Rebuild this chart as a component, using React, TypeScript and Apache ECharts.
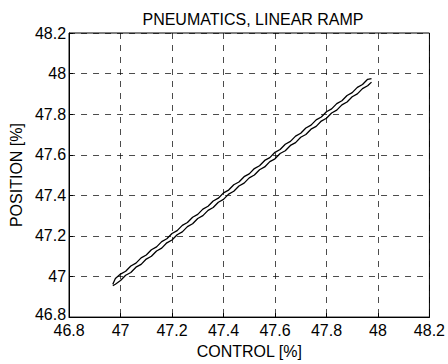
import React, { useEffect, useRef } from "react";
import * as echarts from "echarts";

const titleText = "PNEUMATICS, LINEAR RAMP";
const xName = "CONTROL [%]";
const yName = "POSITION [%]";

// rising branch (control increasing)
const controlUp = [46.97, 46.98, 47.0, 47.02, 47.04, 47.06, 47.08, 47.1, 47.12, 47.14, 47.16, 47.18, 47.2, 47.22, 47.24, 47.26, 47.28, 47.3, 47.32, 47.34, 47.36, 47.38, 47.4, 47.42, 47.44, 47.46, 47.48, 47.5, 47.52, 47.54, 47.56, 47.58, 47.6, 47.62, 47.64, 47.66, 47.68, 47.7, 47.72, 47.74, 47.76, 47.78, 47.8, 47.82, 47.84, 47.86, 47.88, 47.9, 47.92, 47.94, 47.96, 47.975];
const positionUp = [46.955, 46.962, 46.98, 47.006, 47.02, 47.046, 47.06, 47.086, 47.1, 47.126, 47.14, 47.166, 47.18, 47.206, 47.22, 47.246, 47.26, 47.286, 47.3, 47.326, 47.34, 47.366, 47.38, 47.406, 47.42, 47.446, 47.46, 47.486, 47.5, 47.526, 47.54, 47.566, 47.58, 47.606, 47.62, 47.646, 47.66, 47.686, 47.7, 47.726, 47.74, 47.766, 47.78, 47.806, 47.82, 47.846, 47.86, 47.886, 47.9, 47.926, 47.94, 47.958];
// falling branch (control decreasing)
const controlDown = [47.975, 47.96, 47.94, 47.92, 47.9, 47.88, 47.86, 47.84, 47.82, 47.8, 47.78, 47.76, 47.74, 47.72, 47.7, 47.68, 47.66, 47.64, 47.62, 47.6, 47.58, 47.56, 47.54, 47.52, 47.5, 47.48, 47.46, 47.44, 47.42, 47.4, 47.38, 47.36, 47.34, 47.32, 47.3, 47.28, 47.26, 47.24, 47.22, 47.2, 47.18, 47.16, 47.14, 47.12, 47.1, 47.08, 47.06, 47.04, 47.02, 47.0, 46.98, 46.97];
const positionDown = [47.975, 47.972, 47.946, 47.932, 47.906, 47.892, 47.866, 47.852, 47.826, 47.812, 47.786, 47.772, 47.746, 47.732, 47.706, 47.692, 47.666, 47.652, 47.626, 47.612, 47.586, 47.572, 47.546, 47.532, 47.506, 47.492, 47.466, 47.452, 47.426, 47.412, 47.386, 47.372, 47.346, 47.332, 47.306, 47.292, 47.266, 47.252, 47.226, 47.212, 47.186, 47.172, 47.146, 47.132, 47.106, 47.092, 47.066, 47.052, 47.026, 47.012, 46.99, 46.962];

const font = "Liberation Sans, Arial, sans-serif";

const fmt = (v: number) => String(Math.round(v * 10) / 10);

export default function App() {
  const ref = useRef<HTMLDivElement>(null);
  useEffect(() => {
    if (!ref.current) return;
    const chart = echarts.init(ref.current, null, { renderer: "svg" });
    const up = controlUp.map((x, i) => [x, positionUp[i]]);
    const down = controlDown.map((x, i) => [x, positionDown[i]]);
    const axisCommon = {
      min: 46.8,
      max: 48.2,
      interval: 0.2,
      axisLine: { show: true, onZero: false, lineStyle: { color: "#000", width: 1 } },
      axisTick: { show: true, inside: true, length: 4, lineStyle: { color: "#000" } },
      splitLine: { show: true, lineStyle: { color: "#000", type: [6, 6], width: 1, opacity: 0.7 } },
      axisLabel: {
        color: "#000",
        fontFamily: font,
        fontSize: 16,
        lineHeight: 12,
        showMinLabel: true,
        showMaxLabel: true,
        formatter: fmt,
      },
      nameTextStyle: { color: "#000", fontFamily: font, fontSize: 16 },
    };
    chart.setOption({
      animation: false,
      backgroundColor: "#fff",
      title: {
        text: titleText,
        left: 248,
        textAlign: "center",
        top: 6,
        textStyle: { color: "#000", fontFamily: font, fontSize: 16, fontWeight: "normal" },
      },
      grid: { left: 64, top: 33, width: 368, height: 290, show: true, borderColor: "#000", borderWidth: 1, backgroundColor: "transparent" },
      xAxis: {
        type: "value",
        ...axisCommon,
        name: xName,
        nameLocation: "middle",
        nameGap: 20,
        axisLabel: { ...axisCommon.axisLabel, margin: 7 },
      },
      yAxis: {
        type: "value",
        ...axisCommon,
        name: yName,
        nameLocation: "middle",
        nameGap: 40,
        axisLabel: {
          ...axisCommon.axisLabel,
          margin: 3,
          formatter: (v: number) => (Math.abs(v - 46.8) < 1e-6 ? "{low|" + fmt(v) + "}" : fmt(v)),
          rich: {
            low: { color: "#000", fontFamily: font, fontSize: 16, lineHeight: 12, padding: [0, 0, 6, 0] },
          },
        },
      },
      series: [
        {
          type: "line",
          data: up,
          showSymbol: false,
          lineStyle: { color: "#000", width: 1.3 },
        },
        {
          type: "line",
          data: down,
          showSymbol: false,
          lineStyle: { color: "#000", width: 1.3 },
        },
      ],
    });
    return () => chart.dispose();
  }, []);
  return <div ref={ref} style={{ position: "fixed", left: 0, top: 0, width: 448, height: 364 }} />;
}
